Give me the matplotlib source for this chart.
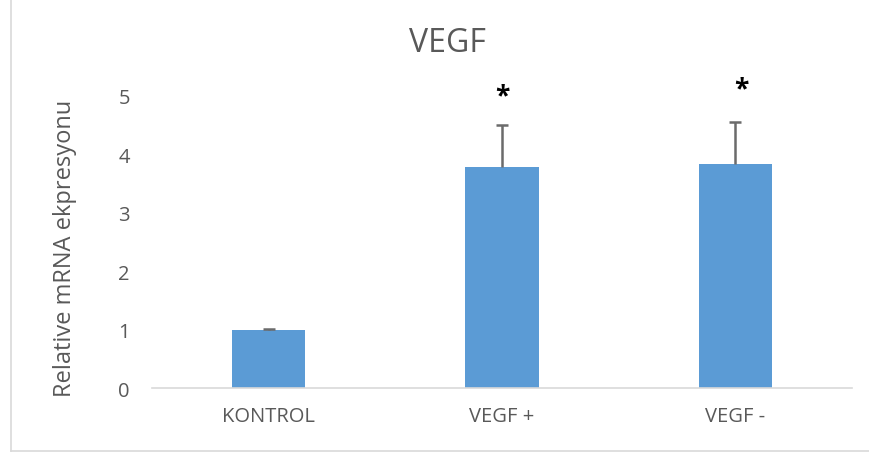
import matplotlib.pyplot as plt

plt.rcParams['font.family'] = ['Open Sans', 'DejaVu Sans']

# data
groups = ['KONTROL', 'VEGF +', 'VEGF -']
values = [1.0, 3.78, 3.84]
err_up = [0.01, 0.72, 0.71]
star_y = [None, 5.0, 5.12]

fig = plt.figure(figsize=(8.7, 4.56), dpi=100)
ax = fig.add_axes([0.1747, 0.1469, 0.8046, 0.6404])

x = range(len(groups))
ax.bar(x, values, width=0.313, color='#5B9BD5', zorder=2)
eb = ax.errorbar(x, values, yerr=[[0] * len(values), err_up], fmt='none',
                 ecolor='#6b6b6b', elinewidth=1.8, capsize=4.3, capthick=1.8, zorder=3)
eb[1][0].set_visible(False)  # no cap at the bar top

for i, sy in enumerate(star_y):
    if sy is not None:
        ax.text(i + (0.025 if i == 2 else 0), sy, '*', ha='center', va='center',
                fontsize=19, fontweight='bold', color='black')

ax.set_xlim(-0.5, 2.5)
ax.set_ylim(0, 5)
ax.set_yticks([0, 1, 2, 3, 4, 5])
ax.set_xticks(list(x))
ax.set_xticklabels(groups)
ax.tick_params(axis='both', length=0, labelsize=14.5, colors='#595959')
ax.tick_params(axis='y', pad=16)
ax.tick_params(axis='x', pad=13)

for s in ['top', 'right', 'left']:
    ax.spines[s].set_visible(False)
ax.spines['bottom'].set_color('#d9d9d9')
ax.spines['bottom'].set_linewidth(1.2)

ax.set_ylabel('Relative mRNA ekpresyonu', fontsize=17, color='#595959')
ax.yaxis.set_label_coords(-0.107, 0.48)
fig.text(0.514, 0.905, 'VEGF', ha='center', va='center', fontsize=23, color='#595959')

# chart frame, left and bottom edges visible
fig.add_artist(plt.Line2D([0.0132, 0.0132], [0.009, 1.0], transform=fig.transFigure,
                          color='#d9d9d9', linewidth=1.2))
fig.add_artist(plt.Line2D([0.0132, 1.0], [0.009, 0.009], transform=fig.transFigure,
                          color='#d9d9d9', linewidth=1.2))

fig.savefig('out.png', dpi=100)
